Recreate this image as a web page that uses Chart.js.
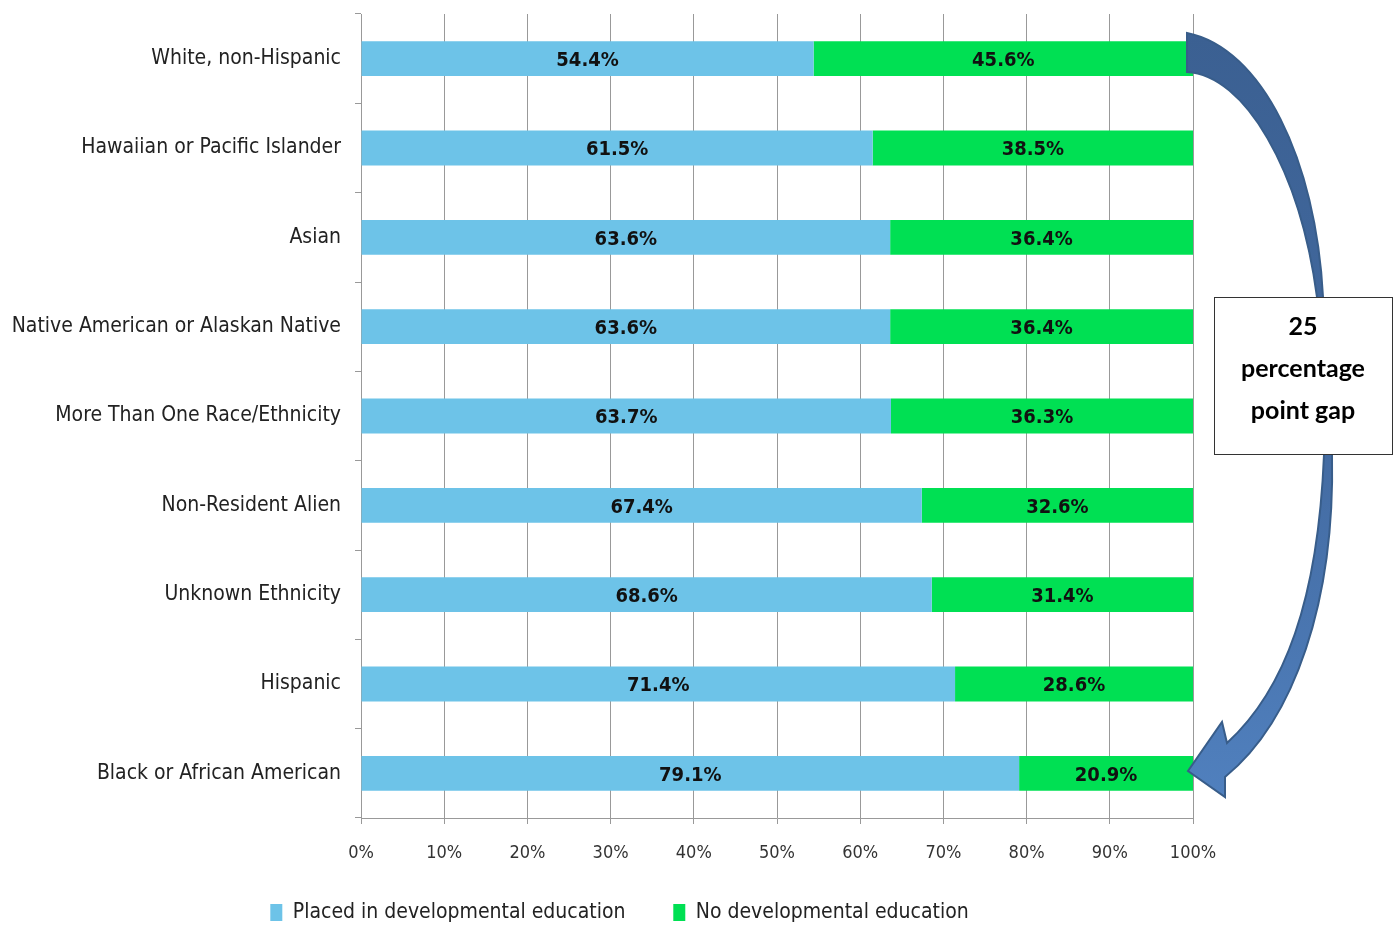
<!DOCTYPE html>
<html>
<head>
<meta charset="utf-8">
<script src="https://cdn.jsdelivr.net/npm/chart.js@4.4.1/dist/chart.umd.min.js"></script>
<style>
  html, body { margin: 0; padding: 0; background: #fff; }
</style>
</head>
<body>
<canvas id="gapChart" width="1400" height="926"></canvas>
<script>
// categories, top to bottom
const categories = [
  "White, non-Hispanic",
  "Hawaiian or Pacific Islander",
  "Asian",
  "Native American or Alaskan Native",
  "More Than One Race/Ethnicity",
  "Non-Resident Alien",
  "Unknown Ethnicity",
  "Hispanic",
  "Black or African American"
];

// percent of students
const placedValues = [54.4, 61.5, 63.6, 63.6, 63.7, 67.4, 68.6, 71.4, 79.1];
const noDevValues = [45.6, 38.5, 36.4, 36.4, 36.3, 32.6, 31.4, 28.6, 20.9];

const seriesNames = ["Placed in developmental education", "No developmental education"];
const xTickValues = [0, 10, 20, 30, 40, 50, 60, 70, 80, 90, 100];
const gapNote = ["25", "percentage", "point gap"];

const narrow = "'Liberation Sans Narrow', 'DejaVu Sans Condensed', 'Arial Narrow', sans-serif";

// labels in the middle of every segment
const segmentLabels = {
  id: "segmentLabels",
  afterDatasetsDraw(chart) {
    const c = chart.ctx;
    c.save();
    c.font = "bold 20px " + narrow;
    c.fillStyle = "#111";
    c.textAlign = "center";
    c.textBaseline = "middle";
    chart.data.datasets.forEach((ds, i) => {
      chart.getDatasetMeta(i).data.forEach((bar, j) => {
        const p = bar.getProps(["x", "y", "base"], true);
        c.fillText(ds.data[j].toFixed(1) + "%", (p.x + p.base) / 2, p.y + 2);
      });
    });
    c.restore();
  }
};

// legend sits a bit right of the plot centre in the original
const legendShift = {
  id: "legendShift",
  afterLayout(chart) {
    chart.legend.left += 23;
    chart.legend.right += 23;
  }
};

// curved arrow + note box on the right
const gapArrow = {
  id: "gapArrow",
  afterDraw(chart) {
    const c = chart.ctx;
    c.save();
    const g = c.createLinearGradient(0, 33, 0, 797);
    g.addColorStop(0, "#3b6092");
    g.addColorStop(0.5, "#42699f");
    g.addColorStop(1, "#5080be");
    c.beginPath();
    c.moveTo(1187, 33);
    c.bezierCurveTo(1262, 48, 1316, 160, 1323, 297);
    c.quadraticCurveTo(1330, 370, 1332, 455);
    c.bezierCurveTo(1335, 600, 1295, 720, 1225, 777);
    c.lineTo(1225, 797);
    c.lineTo(1188, 771);
    c.lineTo(1222, 722);
    c.lineTo(1227, 743);
    c.bezierCurveTo(1285, 690, 1318, 600, 1324, 455);
    c.quadraticCurveTo(1322, 370, 1317, 297);
    c.bezierCurveTo(1300, 170, 1245, 75, 1187, 72);
    c.closePath();
    c.fillStyle = g;
    c.fill();
    c.lineWidth = 2;
    c.strokeStyle = "#385d8a";
    c.stroke();

    c.fillStyle = "#fff";
    c.fillRect(1214, 297, 178, 157);
    c.lineWidth = 1;
    c.strokeStyle = "#333";
    c.strokeRect(1214.5, 297.5, 178, 157);
    c.fillStyle = "#000";
    c.font = "bold 25px Lato, 'Open Sans', sans-serif";
    c.textAlign = "center";
    c.textBaseline = "middle";
    gapNote.forEach((t, i) => c.fillText(t, 1303, 327 + i * 42));
    c.restore();
  }
};

new Chart(document.getElementById("gapChart"), {
  type: "bar",
  data: {
    labels: categories,
    datasets: [
      {
        label: seriesNames[0],
        data: placedValues,
        backgroundColor: "#6dc3e8",
        barPercentage: 1,
        categoryPercentage: 0.39
      },
      {
        label: seriesNames[1],
        data: noDevValues,
        backgroundColor: "#00e053",
        barPercentage: 1,
        categoryPercentage: 0.39
      }
    ]
  },
  options: {
    indexAxis: "y",
    responsive: false,
    animation: false,
    layout: { padding: { top: 14, right: 207, left: 0, bottom: -7 } },
    plugins: {
      tooltip: { enabled: false },
      legend: {
        position: "bottom",
        labels: {
          boxWidth: 12,
          boxHeight: 17,
          padding: 10,
          color: "#222",
          font: { size: 21, family: narrow },
          generateLabels: (chart) =>
            Chart.defaults.plugins.legend.labels.generateLabels(chart).map((it, i) => {
              // wider gap after the first entry, as in the original
              if (i === 0) it.text = it.text + "\u2003\u2003";
              return it;
            })
        }
      }
    },
    scales: {
      x: {
        stacked: true,
        min: 0,
        max: 100,
        afterBuildTicks: (s) => { s.ticks = xTickValues.map(v => ({ value: v })); },
        afterFit: (s) => { s.height = 74; },
        grid: { color: "#999", tickLength: 6 },
        border: { color: "#999" },
        ticks: {
          padding: 19,
          color: "#333",
          font: { size: 18, family: narrow },
          callback: (v) => v + "%"
        }
      },
      y: {
        stacked: true,
        afterFit: (s) => {
          s.width = 361;
          s.paddingTop = 0;
          s.paddingBottom = 0;
        },
        grid: { drawOnChartArea: false, color: "#999", tickLength: 6 },
        border: { color: "#999" },
        ticks: {
          padding: 14,
          color: "#222",
          font: { size: 21, family: narrow }
        }
      }
    }
  },
  plugins: [segmentLabels, legendShift, gapArrow]
});
</script>
</body>
</html>
